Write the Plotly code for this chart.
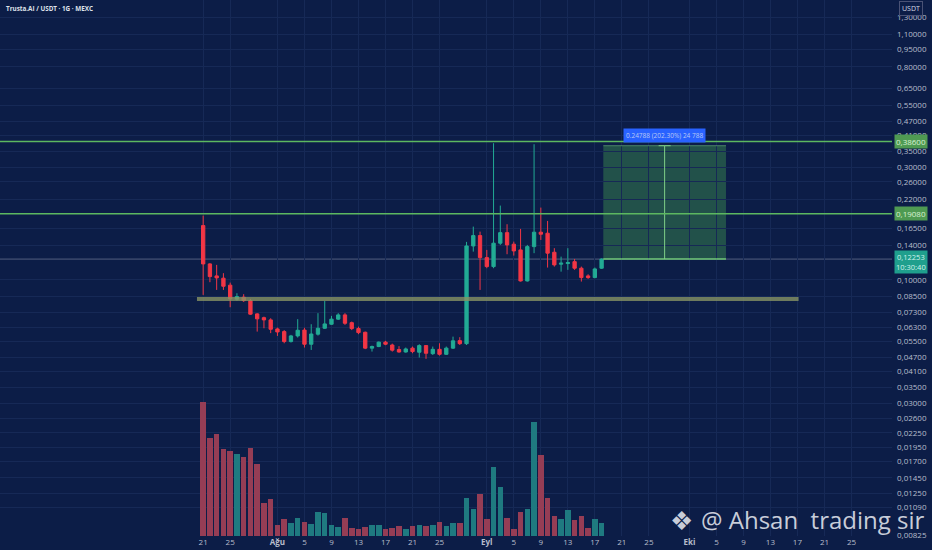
import numpy as np
import pandas as pd
import plotly.graph_objects as go

# daily candles, Trusta.AI / USDT on MEXC
dates = pd.date_range("2025-07-21", periods=60, freq="D")

opens = [0.1699, 0.1169, 0.1040, 0.1017, 0.0950, 0.0829, 0.0845, 0.0817, 0.0718, 0.0692,
         0.0677, 0.0620, 0.0604, 0.0548, 0.0579, 0.0613, 0.0534, 0.0589, 0.0624, 0.0649,
         0.0682, 0.0711, 0.0659, 0.0622, 0.0600, 0.0514, 0.0522, 0.0545, 0.0530, 0.0507,
         0.0495, 0.0514, 0.0494, 0.0527, 0.0487, 0.0508, 0.0484, 0.0514, 0.0553, 0.0537,
         0.1393, 0.1541, 0.1243, 0.1139, 0.1431, 0.1586, 0.1417, 0.1340, 0.0990, 0.1384,
         0.1593, 0.1577, 0.1310, 0.1166, 0.1173, 0.1195, 0.1121, 0.1040, 0.1023, 0.1121]
highs = [0.1873, 0.1177, 0.1158, 0.1068, 0.0974, 0.0878, 0.0870, 0.0831, 0.0723, 0.0699,
         0.0688, 0.0628, 0.0613, 0.0585, 0.0682, 0.0627, 0.0649, 0.0723, 0.0815, 0.0704,
         0.0723, 0.0723, 0.0666, 0.0634, 0.0604, 0.0527, 0.0548, 0.0552, 0.0537, 0.0524,
         0.0517, 0.0522, 0.0534, 0.0530, 0.0522, 0.0539, 0.0522, 0.0575, 0.0572, 0.1449,
         0.1682, 0.1602, 0.1340, 0.3795, 0.2065, 0.1722, 0.1453, 0.1645, 0.1407, 0.3758,
         0.2025, 0.1778, 0.1363, 0.1255, 0.1363, 0.1227, 0.1139, 0.1057, 0.1128, 0.1234]
lows = [0.0864, 0.0978, 0.0907, 0.0907, 0.0766, 0.0817, 0.0807, 0.0711, 0.0604, 0.0624,
        0.0595, 0.0579, 0.0539, 0.0543, 0.0570, 0.0517, 0.0505, 0.0581, 0.0620, 0.0645,
        0.0677, 0.0645, 0.0613, 0.0589, 0.0509, 0.0497, 0.0519, 0.0529, 0.0497, 0.0492,
        0.0492, 0.0489, 0.0469, 0.0463, 0.0481, 0.0478, 0.0481, 0.0510, 0.0530, 0.0530,
        0.1318, 0.0907, 0.1121, 0.1121, 0.1407, 0.1285, 0.1268, 0.0984, 0.0984, 0.1298,
        0.1477, 0.1128, 0.1139, 0.1084, 0.1103, 0.1103, 0.0984, 0.1010, 0.1017, 0.1113]
closes = [0.1169, 0.1033, 0.1020, 0.0940, 0.0831, 0.0850, 0.0817, 0.0716, 0.0684, 0.0677,
          0.0618, 0.0602, 0.0548, 0.0579, 0.0612, 0.0534, 0.0590, 0.0624, 0.0651, 0.0682,
          0.0711, 0.0655, 0.0622, 0.0598, 0.0514, 0.0522, 0.0545, 0.0534, 0.0504, 0.0495,
          0.0510, 0.0497, 0.0527, 0.0489, 0.0508, 0.0484, 0.0514, 0.0552, 0.0537, 0.1393,
          0.1541, 0.1243, 0.1139, 0.1431, 0.1586, 0.1407, 0.1327, 0.0990, 0.1384, 0.1593,
          0.1562, 0.1298, 0.1158, 0.1177, 0.1184, 0.1121, 0.1023, 0.1023, 0.1113, 0.12253]
volumes = [40.2, 29.5, 30.5, 26.0, 25.5, 24.5, 23.8, 26.5, 21.5, 10.0,
           11.0, 3.3, 5.0, 4.0, 5.5, 4.3, 3.5, 7.3, 7.0, 3.2,
           2.7, 5.5, 2.5, 2.2, 2.8, 3.2, 3.3, 2.2, 2.5, 3.0,
           2.2, 2.9, 3.2, 3.0, 3.3, 4.2, 2.9, 4.0, 4.0, 11.5,
           8.0, 12.5, 5.0, 20.8, 14.8, 5.5, 2.2, 7.3, 8.2, 34.2,
           24.2, 11.5, 6.0, 5.0, 7.7, 4.8, 6.0, 2.5, 5.0, 3.8]

price_ticks = [1.3, 1.1, 0.95, 0.8, 0.65, 0.55, 0.47, 0.41, 0.35, 0.30, 0.26, 0.22,
               0.165, 0.14, 0.10, 0.085, 0.073, 0.063, 0.055, 0.047, 0.041, 0.035,
               0.030, 0.026, 0.0225, 0.0195, 0.017, 0.0145, 0.0125, 0.0109, 0.00825]
date_ticks = ["2025-07-21", "2025-07-25", "2025-08-01", "2025-08-05", "2025-08-09",
              "2025-08-13", "2025-08-17", "2025-08-21", "2025-08-25", "2025-09-01",
              "2025-09-05", "2025-09-09", "2025-09-13", "2025-09-17", "2025-09-21",
              "2025-09-25", "2025-10-01", "2025-10-05", "2025-10-09", "2025-10-13",
              "2025-10-17", "2025-10-21", "2025-10-25"]
date_labels = ["21", "25", "<b>Ağu</b>", "5", "9", "13", "17", "21", "25", "<b>Eyl</b>",
               "5", "9", "13", "17", "21", "25", "<b>Eki</b>", "5", "9", "13", "17", "21", "25"]

# levels drawn on the chart
level_top = 0.386
level_mid = 0.1908
support = 0.0831
entry = 0.12253
target = 0.37041
pos_start, pos_end, pos_mid = "2025-09-18 06:00", "2025-10-06 10:00", "2025-09-27 08:00"
support_start, support_end = "2025-07-20 02:00", "2025-10-17 04:00"

bg = "#0c1d47"
grid = "#162956"
up = "#22ab94"
down = "#f23645"
green = "#5cb860"
axis_txt = "#b8bdcc"

vol_colors = ["#1f7a80" if c >= o else "#953d55" for o, c in zip(opens, closes)]

fig = go.Figure()
fig.add_trace(go.Bar(x=dates, y=volumes, marker_color=vol_colors, marker_line_width=0,
                     width=0.82 * 86400000, yaxis="y2", hoverinfo="skip"))
fig.add_trace(go.Candlestick(
    x=dates, open=opens, high=highs, low=lows, close=closes,
    increasing=dict(line=dict(color=up, width=1), fillcolor=up),
    decreasing=dict(line=dict(color=down, width=1), fillcolor=down),
    whiskerwidth=0, hoverinfo="skip"))

shapes = []
# long position box
shapes.append(dict(type="rect", xref="x", yref="y", x0=pos_start, x1=pos_end, y0=entry, y1=target,
                   fillcolor="rgba(76,175,80,0.36)", line_width=0, layer="below"))
shapes.append(dict(type="line", xref="x", yref="y", x0=pos_start, x1=pos_end, y0=target, y1=target,
                   line=dict(color="rgba(120,200,130,0.55)", width=1)))
shapes.append(dict(type="line", xref="x", yref="y", x0=pos_start, x1=pos_end, y0=entry, y1=entry,
                   line=dict(color="#6cc474", width=1.5)))
shapes.append(dict(type="line", xref="x", yref="y", x0=pos_mid, x1=pos_mid, y0=entry, y1=target,
                   line=dict(color="#7fd088", width=1)))
for dx in (-6, 6):
    shapes.append(dict(type="line", xref="x", yref="y", xsizemode="pixel", ysizemode="pixel",
                       xanchor=pos_mid, yanchor=target, x0=dx, x1=0, y0=-6, y1=0,
                       line=dict(color="#7fd088", width=1)))
# horizontal levels
for lv in (level_top, level_mid):
    shapes.append(dict(type="line", xref="paper", yref="y", x0=0, x1=1, y0=lv, y1=lv,
                       line=dict(color=green, width=1.6)))
shapes.append(dict(type="line", xref="paper", yref="y", x0=0, x1=1, y0=entry, y1=entry,
                   line=dict(color="rgba(140,150,175,0.55)", width=1), layer="below"))
shapes.append(dict(type="line", xref="x", yref="y", x0=support_start, x1=support_end,
                   y0=support, y1=support, line=dict(color="rgba(135,148,100,0.8)", width=4)))


def fmt(v):
    return f"{v:.5f}".replace(".", ",")


annotations = [
    dict(text="<b>Trusta.AI / USDT · 1G · MEXC</b>", xref="paper", yref="paper", x=0.004, y=0.985,
         xanchor="left", yanchor="middle", showarrow=False,
         font=dict(size=6.3, color="#dfe2ea", family="Open Sans")),
    dict(text="USDT", xref="paper", yref="paper", x=1.021, y=0.984, xanchor="center",
         yanchor="middle", showarrow=False, bgcolor=bg, bordercolor="#4a5275", borderwidth=1,
         borderpad=2, font=dict(size=7, color="#d6d9e3")),
    dict(text=fmt(level_top), xref="paper", yref="y", x=1.002, y=np.log10(level_top),
         xanchor="left", yanchor="middle", showarrow=False, bgcolor="#4f9a52", borderpad=1,
         font=dict(size=8, color="#d9f2d2")),
    dict(text=fmt(level_mid), xref="paper", yref="y", x=1.002, y=np.log10(level_mid),
         xanchor="left", yanchor="middle", showarrow=False, bgcolor="#4f9a52", borderpad=1,
         font=dict(size=8, color="#d9f2d2")),
    dict(text=fmt(entry) + "<br>10:30:40", xref="paper", yref="y", x=1.002, y=np.log10(entry),
         xanchor="left", yanchor="middle", yshift=-3, showarrow=False, bgcolor="#1f9f8d",
         borderpad=1, font=dict(size=7.5, color="#d2f2ec")),
    dict(text=f"{target - entry:.5f} ({(target - entry) / entry * 100:.2f}%) 24 788",
         xref="x", yref="y", x=pos_mid, y=np.log10(target), yshift=10, showarrow=False,
         bgcolor="#2962ff", borderpad=2, font=dict(size=6.5, color="#b9c8f5")),
    dict(text="❖", xref="paper", yref="paper", x=681 / 892, y=0.03, xanchor="center",
         yanchor="middle", showarrow=False, font=dict(size=26, color="rgba(235,238,245,0.85)")),
    dict(text="@ Ahsan\u00a0 trading sir", xref="paper", yref="paper", x=699 / 892, y=0.03,
         xanchor="left", yanchor="middle", showarrow=False,
         font=dict(size=24, color="rgba(235,238,245,0.85)", family="Open Sans")),
]

fig.update_layout(
    width=932, height=550,
    margin=dict(l=0, r=40, t=0, b=14),
    paper_bgcolor=bg, plot_bgcolor=bg,
    showlegend=False,
    shapes=shapes,
    annotations=annotations,
    xaxis=dict(type="date", range=["2025-06-20 22:00", "2025-10-31 00:00"],
               rangeslider_visible=False, tickvals=date_ticks, ticktext=date_labels,
               showgrid=True, gridcolor=grid, gridwidth=1, zeroline=False, ticks="",
               tickfont=dict(size=8, color=axis_txt, family="Open Sans"), fixedrange=True),
    yaxis=dict(type="log", side="right", range=[-2.085, 0.186], tickvals=price_ticks,
               ticktext=[fmt(v) for v in price_ticks], showgrid=True, gridcolor=grid,
               zeroline=False, ticks="", ticklabelstandoff=4,
               tickfont=dict(size=8, color=axis_txt, family="Open Sans")),
    yaxis2=dict(overlaying="y", range=[0, 161], visible=False),
    bargap=0,
)

fig.write_html("out.html", config={"displayModeBar": False},
               post_script="document.body.style.margin='0';document.body.style.overflow='hidden';")
